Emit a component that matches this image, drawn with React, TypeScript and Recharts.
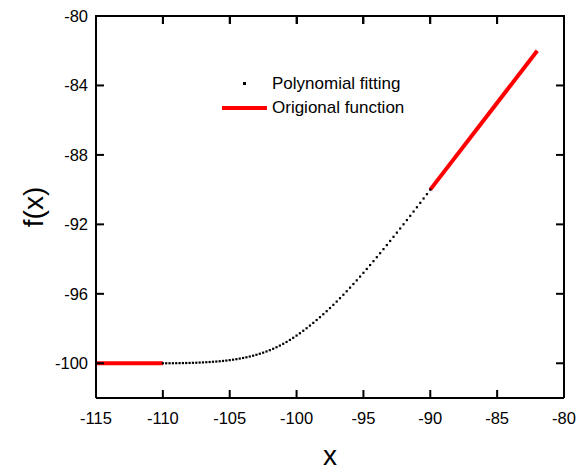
import { LineChart, Line, XAxis, YAxis, CartesianGrid } from 'recharts';

// polynomial fitting samples
const fitX = [
  -110, -109.75, -109.5, -109.25, -109, -108.75, -108.5, -108.25, -108, -107.75,
  -107.5, -107.25, -107, -106.75, -106.5, -106.25, -106, -105.75, -105.5, -105.25,
  -105, -104.75, -104.5, -104.25, -104, -103.75, -103.5, -103.25, -103, -102.75,
  -102.5, -102.25, -102, -101.75, -101.5, -101.25, -101, -100.75, -100.5, -100.25,
  -100, -99.75, -99.5, -99.25, -99, -98.75, -98.5, -98.25, -98, -97.75,
  -97.5, -97.25, -97, -96.75, -96.5, -96.25, -96, -95.75, -95.5, -95.25,
  -95, -94.75, -94.5, -94.25, -94, -93.75, -93.5, -93.25, -93, -92.75,
  -92.5, -92.25, -92, -91.75, -91.5, -91.25, -91, -90.75, -90.5, -90.25,
  -90,
];
const fitY = [
  -100, -100, -99.999, -99.997, -99.995, -99.992, -99.989, -99.985, -99.98, -99.974,
  -99.968, -99.959, -99.95, -99.939, -99.928, -99.914, -99.9, -99.884, -99.865, -99.844,
  -99.82, -99.793, -99.764, -99.731, -99.695, -99.655, -99.611, -99.563, -99.51, -99.452,
  -99.389, -99.32, -99.245, -99.164, -99.076, -98.982, -98.88, -98.772, -98.656, -98.534,
  -98.405, -98.27, -98.129, -97.982, -97.83, -97.673, -97.511, -97.345, -97.175, -97.0,
  -96.82, -96.635, -96.445, -96.251, -96.053, -95.851, -95.645, -95.436, -95.224, -95.008,
  -94.79, -94.569, -94.345, -94.119, -93.89, -93.659, -93.426, -93.192, -92.955, -92.717,
  -92.478, -92.237, -91.995, -91.752, -91.508, -91.262, -91.015, -90.76, -90.51, -90.26,
  -90,
];

// original function pieces
const origLeftX = [-115, -110];
const origLeftY = [-100, -100];
const origRightX = [-90, -82];
const origRightY = [-90, -82];

const xTicks = [-115, -110, -105, -100, -95, -90, -85, -80];
const yTicks = [-100, -96, -92, -88, -84, -80];
const seriesNames = ['Polynomial fitting', 'Origional function'];

const fitData = fitX.map((x, i) => ({ x, y: fitY[i] }));
const origLeft = origLeftX.map((x, i) => ({ x, y: origLeftY[i] }));
const origRight = origRightX.map((x, i) => ({ x, y: origRightY[i] }));

const FONT = '"Liberation Sans", Arial, sans-serif';
// plot box inside the svg
const PLOT_L = 88;
const PLOT_T = 8;
const PLOT_W = 468;
const PLOT_H = 382;

function SquareDot(props: any) {
  const { cx, cy, index } = props;
  if (cx == null || cy == null) return <g key={index} />;
  return <rect key={index} x={cx - 1.1} y={cy - 1.1} width={2.2} height={2.2} fill="#000" />;
}

function BottomTick(props: any) {
  const { x, y, payload } = props;
  const ay = y - 14;
  const top = ay - PLOT_H;
  return (
    <g>
      <line x1={x} y1={ay} x2={x} y2={ay - 8} stroke="#000" strokeWidth={2} />
      <line x1={x} y1={top} x2={x} y2={top + 8} stroke="#000" strokeWidth={2} />
      <text x={x} y={y} dy="0.71em" textAnchor="middle" fontSize={16.5} fontFamily={FONT} fill="#000">
        {payload.value}
      </text>
    </g>
  );
}

function LeftTick(props: any) {
  const { x, y, payload } = props;
  const ax = x + 8;
  return (
    <g>
      <line x1={ax} y1={y} x2={ax + 8} y2={y} stroke="#000" strokeWidth={2} />
      <text x={x} y={y} dy="0.355em" textAnchor="end" fontSize={16.5} fontFamily={FONT} fill="#000">
        {payload.value}
      </text>
    </g>
  );
}

function RightTick(props: any) {
  const { x, y } = props;
  return <line x1={x} y1={y} x2={x - 8} y2={y} stroke="#000" strokeWidth={2} />;
}

function YTitle(props: any) {
  const { viewBox } = props;
  const cx = viewBox.x + 25;
  const cy = viewBox.y + viewBox.height / 2;
  return (
    <text x={cx} y={cy} transform={`rotate(-90 ${cx} ${cy})`} textAnchor="middle" dominantBaseline="central"
      fontSize={28} fontFamily={FONT} fill="#000">
      f(x)
    </text>
  );
}

// top edge of the frame with its inward ticks
function TopFrame() {
  return (
    <div style={{ position: 'absolute', zIndex: 5, left: PLOT_L - 1, top: PLOT_T - 1, width: PLOT_W + 2, height: 10, pointerEvents: 'none' }}>
      <div style={{ position: 'absolute', left: 0, top: 0, width: PLOT_W + 2, height: 2, background: '#000' }} />
      {xTicks.map((t) => (
        <div key={t} style={{
          position: 'absolute', left: ((t - xTicks[0]) / (xTicks[xTicks.length - 1] - xTicks[0])) * PLOT_W,
          top: 0, width: 2, height: 9, background: '#000',
        }} />
      ))}
    </div>
  );
}

function LegendBox() {
  const row = { display: 'flex', alignItems: 'center', height: 24 } as const;
  return (
    <div style={{ position: 'absolute', zIndex: 5, left: 214, top: 64, fontFamily: FONT, fontSize: 17, color: '#000', lineHeight: '24px', whiteSpace: 'nowrap', pointerEvents: 'none' }}>
      <div style={row}>
        <div style={{ width: 50, position: 'relative', height: 24 }}>
          <div style={{ position: 'absolute', left: 21, top: 10, width: 3, height: 3, background: '#000' }} />
        </div>
        <span>{seriesNames[0]}</span>
      </div>
      <div style={row}>
        <div style={{ width: 50, position: 'relative', height: 24 }}>
          <div style={{ position: 'absolute', left: 0, top: 10, width: 45, height: 4, background: '#ff0000' }} />
        </div>
        <span>{seriesNames[1]}</span>
      </div>
    </div>
  );
}

export default function App() {
  return (
    <div style={{ padding: 8, width: 570, height: 459 }}>
      <style>{'body{margin:0} svg.recharts-surface{overflow:visible}'}</style>
      <div style={{ position: 'relative', width: 570, height: 459 }}>
        <LineChart width={570} height={459} margin={{ top: 6, right: 13, bottom: 0, left: 0 }}>
          <CartesianGrid
            xAxisId="b"
            yAxisId="l"
            vertical={false}
            horizontalValues={[-80]}
            stroke="#000"
            strokeWidth={2}
            strokeOpacity={1}
          />
          <XAxis
            xAxisId="b"
            type="number"
            dataKey="x"
            domain={[-115, -80]}
            ticks={xTicks}
            interval={0}
            allowDataOverflow
            height={69}
            tickSize={0}
            tickMargin={14}
            tick={<BottomTick />}
            axisLine={{ stroke: '#000', strokeWidth: 2 }}
            label={{ value: 'x', position: 'insideBottom', offset: 2, style: { fontSize: 28, fontFamily: FONT, fill: '#000' } }}
          />
          <XAxis
            xAxisId="t"
            orientation="top"
            type="number"
            dataKey="x"
            domain={[-115, -80]}
            ticks={xTicks}
            interval={0}
            allowDataOverflow
            height={2}
            tickSize={6}
            tick={false}
            axisLine={{ stroke: '#000', strokeWidth: 2 }}
          />
          <YAxis
            yAxisId="l"
            type="number"
            domain={[-102, -80]}
            ticks={yTicks}
            interval={0}
            allowDataOverflow
            width={88}
            tickSize={0}
            tickMargin={8}
            tick={<LeftTick />}
            axisLine={{ stroke: '#000', strokeWidth: 2 }}
            label={<YTitle />}
          />
          <YAxis
            yAxisId="r"
            orientation="right"
            type="number"
            domain={[-102, -80]}
            ticks={yTicks}
            interval={0}
            allowDataOverflow
            width={1}
            tickSize={0}
            tickMargin={0}
            tick={<RightTick />}
            axisLine={{ stroke: '#000', strokeWidth: 2 }}
          />
          <Line
            xAxisId="b"
            yAxisId="l"
            data={fitData}
            dataKey="y"
            stroke="none"
            dot={SquareDot}
            activeDot={false}
            legendType="none"
            isAnimationActive={false}
          />
          <Line
            xAxisId="b"
            yAxisId="l"
            data={origLeft}
            dataKey="y"
            stroke="#ff0000"
            strokeWidth={4}
            dot={false}
            activeDot={false}
            isAnimationActive={false}
          />
          <Line
            xAxisId="b"
            yAxisId="l"
            data={origRight}
            dataKey="y"
            stroke="#ff0000"
            strokeWidth={4}
            dot={false}
            activeDot={false}
            isAnimationActive={false}
          />
        </LineChart>
        <TopFrame />
        <LegendBox />
      </div>
    </div>
  );
}
